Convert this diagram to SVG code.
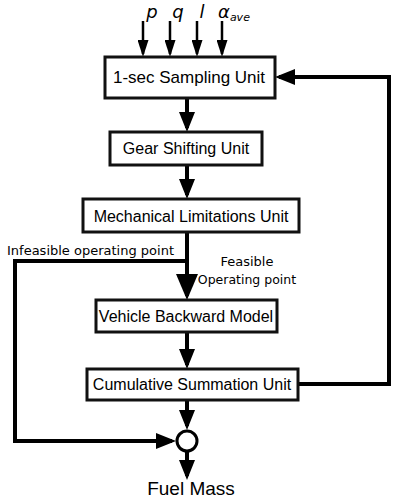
<svg xmlns="http://www.w3.org/2000/svg" width="393" height="502" viewBox="0 0 393 502">
<style>
.box{fill:#fff;stroke:#111;stroke-width:3}
.bt{font-family:"Liberation Sans",Arial,sans-serif;font-size:16px;fill:#000;text-anchor:middle}
.lbl{font-family:"DejaVu Sans",sans-serif;font-size:13px;fill:#000}
.var{font-family:"DejaVu Sans",sans-serif;font-style:italic;font-size:18px;fill:#000}
.c{fill:none;stroke:#000;stroke-width:4}
.ci{fill:none;stroke:#000;stroke-width:2.5}
</style>
<defs>
<marker id="ah" viewBox="0 0 20 16" markerWidth="20" markerHeight="16" refX="16" refY="8" markerUnits="userSpaceOnUse" orient="auto"><path d="M0,0 L20,8 L0,16 z" fill="#000"/></marker>
<marker id="ahL" viewBox="0 0 26 22" markerWidth="26" markerHeight="22" refX="22" refY="11" markerUnits="userSpaceOnUse" orient="auto"><path d="M0,0 L26,11 L0,22 z" fill="#000"/></marker>
<marker id="ahs" viewBox="0 0 17 11" markerWidth="17" markerHeight="11" refX="14" refY="5.5" markerUnits="userSpaceOnUse" orient="auto"><path d="M0,0 L17,5.5 L0,11 z" fill="#000"/></marker>
</defs>

<g id="inputs">
<text class="var" x="152" y="18" text-anchor="middle">p</text>
<text class="var" x="178" y="18" text-anchor="middle">q</text>
<text class="var" x="202" y="18" text-anchor="middle">l</text>
<text class="var" x="218" y="18">α<tspan style="font-size:11px" dy="3">ave</tspan></text>
</g>

<g id="connectors">
<line class="ci" x1="143" y1="21" x2="143" y2="54" marker-end="url(#ahs)"/>
<line class="ci" x1="170" y1="21" x2="170" y2="54" marker-end="url(#ahs)"/>
<line class="ci" x1="197" y1="21" x2="197" y2="54" marker-end="url(#ahs)"/>
<line class="ci" x1="222" y1="21" x2="222" y2="54" marker-end="url(#ahs)"/>
<line class="c" x1="187" y1="98" x2="187" y2="128" marker-end="url(#ah)"/>
<line class="c" x1="187" y1="165" x2="187" y2="195" marker-end="url(#ah)"/>
<line class="c" x1="187" y1="232" x2="187" y2="296" marker-end="url(#ahL)"/>
<line class="c" x1="187" y1="332" x2="187" y2="365" marker-end="url(#ah)"/>
<line class="c" x1="187" y1="400" x2="187" y2="426" marker-end="url(#ah)"/>
<line class="c" x1="187" y1="452" x2="187" y2="476" marker-end="url(#ah)"/>
<path class="c" d="M187,261 H15 V441 H172" marker-end="url(#ah)"/>
<path class="c" d="M298,384 H389 V77 H279" marker-end="url(#ah)"/>
</g>

<g id="n1"><rect class="box" x="105" y="57" width="170" height="41"/><text class="bt" x="189" y="83" style="font-size:17px">1-sec Sampling Unit</text></g>
<g id="n2"><rect class="box" x="110" y="132" width="152" height="33"/><text class="bt" x="186" y="154">Gear Shifting Unit</text></g>
<g id="n3"><rect class="box" x="83" y="199" width="216" height="33"/><text class="bt" x="191" y="222">Mechanical Limitations Unit</text></g>
<g id="n4"><rect class="box" x="96" y="300" width="181" height="32"/><text class="bt" x="186" y="322">Vehicle Backward Model</text></g>
<g id="n5"><rect class="box" x="87" y="369" width="211" height="31"/><text class="bt" x="192" y="390">Cumulative Summation Unit</text></g>
<g id="sum"><circle cx="187" cy="441" r="10" fill="#fff" stroke="#000" stroke-width="3"/></g>

<g id="labels">
<text class="lbl" x="7" y="255">Infeasible operating point</text>
<text class="lbl" x="247" y="266" text-anchor="middle">Feasible</text>
<text class="lbl" x="247" y="284" text-anchor="middle" style="font-size:12.5px">Operating point</text>
<text class="bt" x="191" y="495" style="font-size:19px">Fuel Mass</text>
</g>
</svg>
